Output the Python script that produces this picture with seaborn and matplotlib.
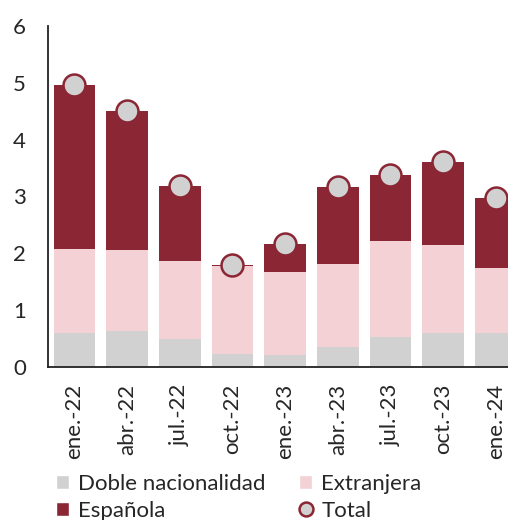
import matplotlib
matplotlib.use("Agg")
import matplotlib.pyplot as plt
from matplotlib.lines import Line2D
from matplotlib.patches import Patch
import seaborn as sns
import pandas as pd
import numpy as np

categories = ["ene.-22", "abr.-22", "jul.-22", "oct.-22", "ene.-23",
              "abr.-23", "jul.-23", "oct.-23", "ene.-24"]
doble = [0.60, 0.63, 0.49, 0.23, 0.21, 0.35, 0.53, 0.60, 0.60]
extranjera = [1.47, 1.42, 1.37, 1.54, 1.47, 1.46, 1.68, 1.54, 1.15]
espanola = [2.89, 2.46, 1.33, 0.02, 0.48, 1.35, 1.16, 1.47, 1.23]
total = [4.96, 4.51, 3.19, 1.79, 2.16, 3.16, 3.37, 3.61, 2.98]
yticks = [0, 1, 2, 3, 4, 5, 6]

c_doble = "#D0D1D0"
c_ext = "#F3D1D5"
c_esp = "#8B2634"

sns.set_style("white")
plt.rcParams['font.family'] = ['Lato', 'DejaVu Sans']

df = pd.DataFrame({"cat": categories, "doble": doble, "ext": extranjera,
                   "esp": espanola, "total": total})
df["b2"] = df["doble"]
df["b3"] = df["doble"] + df["ext"]

fig = plt.figure(figsize=(5.08, 5.2), dpi=100)
ax = fig.add_axes([48/508, (520-367)/520, 1 - 48/508, (367-26)/520])

w = 0.79
sns.barplot(data=df, x="cat", y="doble", order=categories, color=c_doble,
            width=w, ax=ax, saturation=1, linewidth=0)
sns.barplot(data=df, x="cat", y="ext", order=categories, color=c_ext,
            width=w, ax=ax, saturation=1, bottom=df["b2"].values, linewidth=0)
sns.barplot(data=df, x="cat", y="esp", order=categories, color=c_esp,
            width=w, ax=ax, saturation=1, bottom=df["b3"].values, linewidth=0)
sns.scatterplot(data=df, x="cat", y="total", ax=ax, s=250, color=c_doble,
                edgecolor=c_esp, linewidth=1.8, zorder=5, clip_on=False)

fs = 16
ax.set_xlim(-0.5, 8.23)
ax.set_ylim(0, 6)
ax.set_yticks(yticks)
ax.set_yticklabels([str(t) for t in yticks], fontsize=fs)
ax.set_xlabel("")
ax.set_ylabel("")
ax.tick_params(axis="x", labelrotation=90, labelsize=fs, length=0, pad=12)
ax.tick_params(axis="y", length=0, pad=16)
sns.despine(ax=ax, top=True, right=True)
ax.spines["left"].set_color("#222222")
ax.spines["bottom"].set_color("#222222")
ax.spines["left"].set_linewidth(1.3)
ax.spines["bottom"].set_linewidth(1.3)

handles = [
    Patch(facecolor=c_doble, label="Doble nacionalidad"),
    Patch(facecolor=c_esp, label="Española"),
    Patch(facecolor=c_ext, label="Extranjera"),
    Line2D([], [], marker="o", linestyle="none", markersize=10,
           markerfacecolor=c_doble, markeredgecolor=c_esp,
           markeredgewidth=1.8, label="Total"),
]
fig.legend(handles=handles, ncol=2, loc="upper left",
           bbox_to_anchor=(56/508, 1 - 474/520), frameon=False,
           fontsize=fs, handlelength=0.6, handleheight=0.6,
           handletextpad=0.4, columnspacing=1.5, labelspacing=0.3,
           borderpad=0, borderaxespad=0)

fig.savefig("out.png", dpi=100)
